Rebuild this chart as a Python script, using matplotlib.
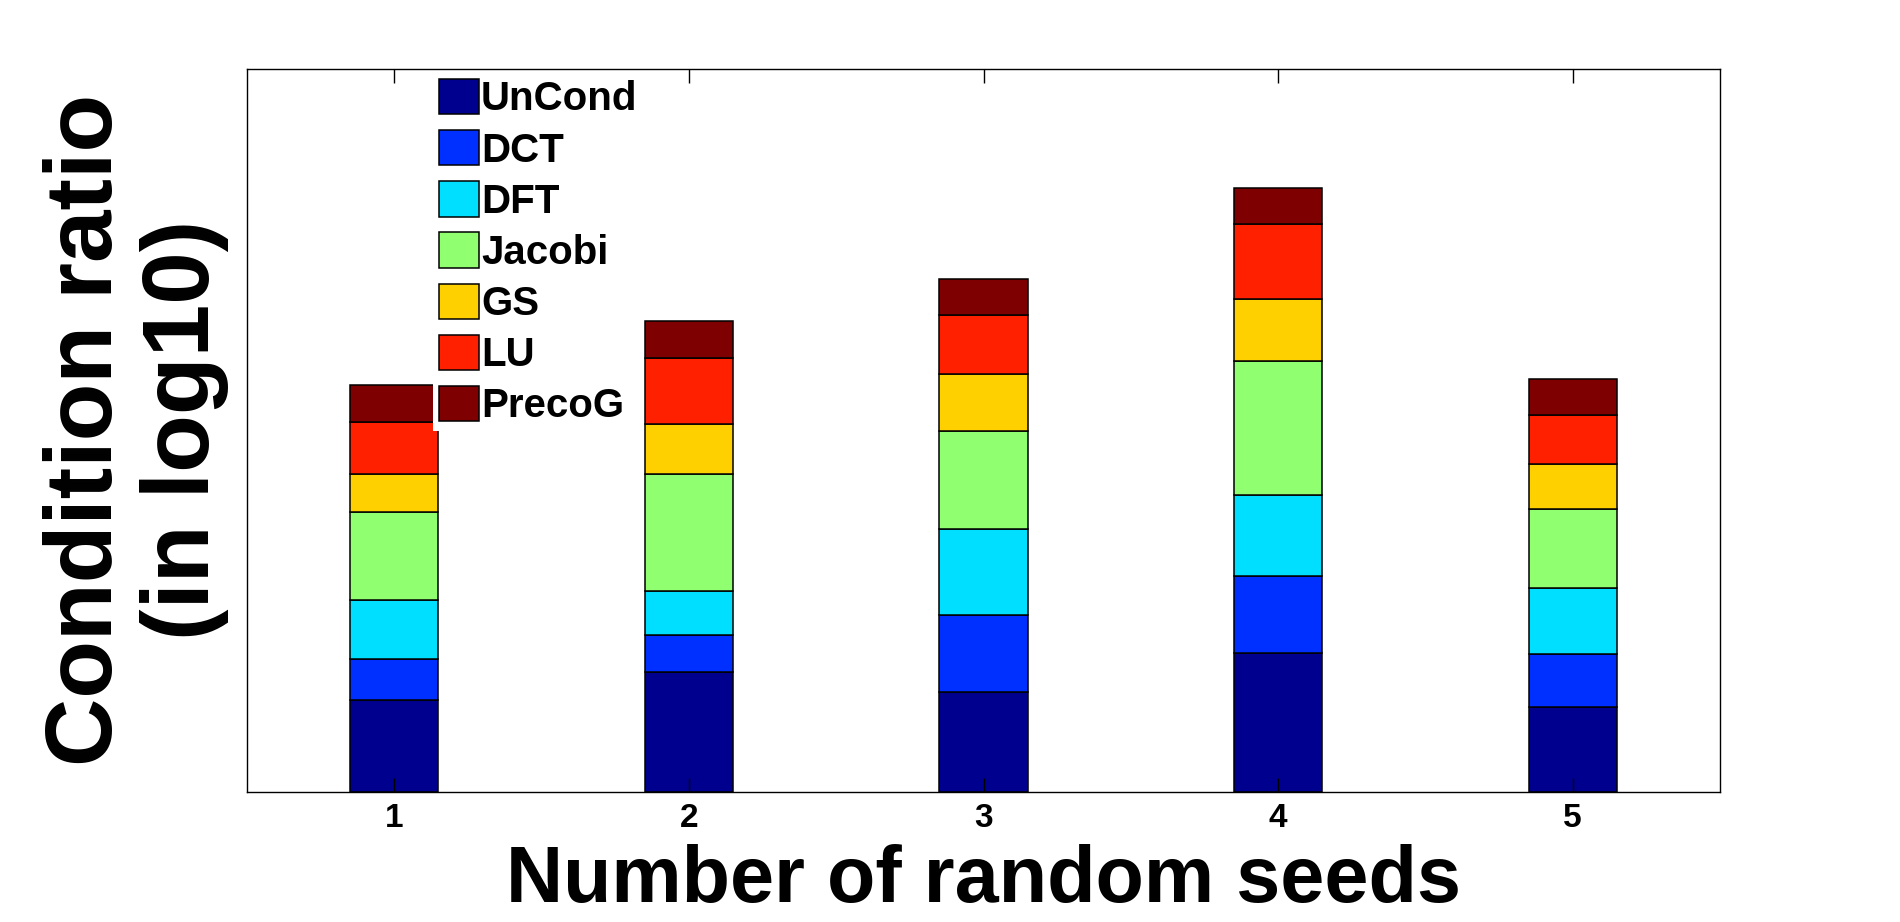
import matplotlib
matplotlib.use("Agg")
import matplotlib.pyplot as plt
import numpy as np

# ---- data (stacked segment heights, arbitrary log10 units) ----
seeds = [1, 2, 3, 4, 5]
series_names = ["UnCond", "DCT", "DFT", "Jacobi", "GS", "LU", "PrecoG"]
uncond = [3.04, 3.97, 3.31, 4.60, 2.82]
dct    = [1.36, 1.23, 2.56, 2.56, 1.75]
dft    = [1.97, 1.46, 2.85, 2.69, 2.19]
jacobi = [2.91, 3.88, 3.25, 4.45, 2.62]
gs     = [1.26, 1.66, 1.89, 2.06, 1.50]
lu     = [1.73, 2.22, 1.96, 2.49, 1.62]
precog = [1.23, 1.20, 1.20, 1.20, 1.20]
colors = ["#00008F", "#0030FF", "#00DFFF", "#90FF70", "#FFD000", "#FF2000", "#7F0000"]

series = [uncond, dct, dft, jacobi, gs, lu, precog]

plt.rcParams['font.family'] = ['Liberation Sans', 'DejaVu Sans']
plt.rcParams['font.weight'] = 'bold'

fig = plt.figure(figsize=(19, 9.22), dpi=100)
W, H = 1900, 922
ax = fig.add_axes([247 / W, 1 - 792 / H, (1720 - 247) / W, (792 - 69) / H])

bottom = np.zeros(len(seeds))
handles = []
for name, vals, c in zip(series_names, series, colors):
    b = ax.bar(seeds, vals, width=0.3, bottom=bottom, color=c,
               edgecolor='black', linewidth=1.1, label=name)
    handles.append(b)
    bottom += np.array(vals)

ax.set_xlim(0.5, 5.5)
ax.set_ylim(0, 24)
ax.set_xticks(seeds)
ax.set_xticklabels([str(s) for s in seeds], fontsize=24, fontweight='bold')
ax.set_yticks([])
ax.tick_params(axis='x', direction='in', length=10, width=1.0, top=True, pad=8)
for sp in ax.spines.values():
    sp.set_linewidth(1.0)

fig.text(983.5 / W, 1 - 902 / H, "Number of random seeds", ha='center', va='baseline',
         fontsize=57, fontweight='bold')
fig.text(136 / W, 1 - 430 / H, "Condition ratio\n(in log10)", rotation=90,
         ha='center', va='center', multialignment='center',
         fontsize=68, fontweight='bold', linespacing=1.12)

leg = fig.legend(handles=handles, labels=series_names, loc='upper left',
                 bbox_to_anchor=(433 / W, 1 - 73 / H), bbox_transform=fig.transFigure,
                 prop={'size': 29, 'weight': 'bold'}, frameon=True, fancybox=False,
                 framealpha=1.0, facecolor='white', edgecolor='none',
                 handlelength=1.0, handleheight=0.97, handletextpad=0.04,
                 labelspacing=0.29, borderpad=0.15, borderaxespad=0)

fig.savefig("out.png", dpi=100)
